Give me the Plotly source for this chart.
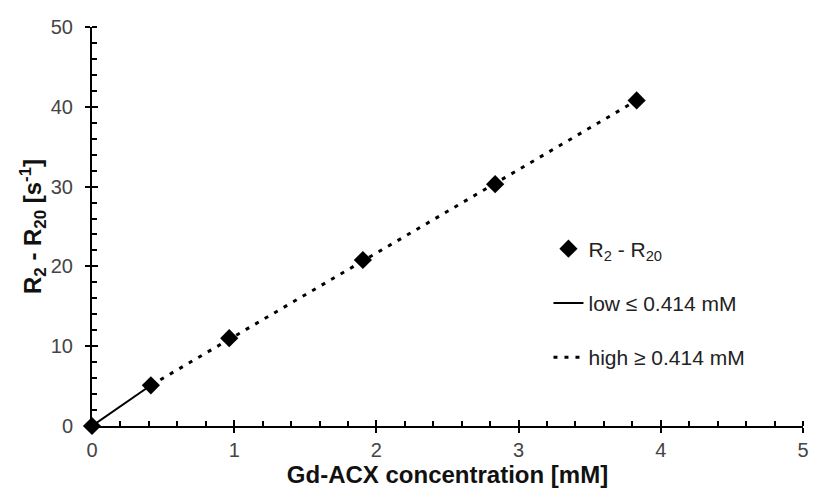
import plotly.graph_objects as go

# measured points
conc = [0, 0.414, 0.965, 1.905, 2.835, 3.83]
r2_diff = [0, 5.1, 11.0, 20.8, 30.3, 40.8]

# low range fit (solid) and high range fit (dotted)
low_x = [0, 0.414]
low_y = [0, 5.1]
high_x = [0.414, 3.83]
high_y = [5.1, 40.8]

x_ticks = [0, 1, 2, 3, 4, 5]
y_ticks = [0, 10, 20, 30, 40, 50]

tick_font = dict(family="Liberation Sans, Arial, sans-serif", size=20, color="#444444")
title_font = dict(family="Liberation Sans, Arial, sans-serif", size=24, color="#111111")

fig = go.Figure()

fig.add_trace(go.Scatter(
    x=low_x, y=low_y, mode="lines", name="low \u2264 0.414 mM",
    line=dict(color="black", width=2), legendgroup="b", legendrank=2,
    cliponaxis=False
))
fig.add_trace(go.Scatter(
    x=high_x, y=high_y, mode="lines", name="high \u2265 0.414 mM",
    line=dict(color="black", width=3, dash="4px,7px"), legendgroup="c", legendrank=3,
    cliponaxis=False
))
fig.add_trace(go.Scatter(
    x=conc, y=r2_diff, mode="markers", name="R<sub>2</sub> - R<sub>20</sub>",
    marker=dict(symbol="diamond", size=14, color="black"), legendgroup="a", legendrank=1,
    cliponaxis=False
))

axis_common = dict(
    showgrid=False, zeroline=False, showline=True, linecolor="black", linewidth=2,
    ticks="outside", ticklen=5, tickwidth=2, tickcolor="black",
    tickfont=tick_font,
)

# page body adds an 8px margin, so the figure is 8px smaller each way
fig.update_layout(
    width=809, height=496,
    plot_bgcolor="white", paper_bgcolor="white",
    margin=dict(l=84, r=8, t=12, b=78),
    xaxis=dict(
        range=[0, 5], tickvals=x_ticks,
        minor=dict(dtick=0.2, ticks="inside", ticklen=5, tickwidth=1.5, tickcolor="black"),
        title=dict(text="<b>Gd-ACX concentration [mM]</b>", font=title_font, standoff=0),
        **axis_common
    ),
    yaxis=dict(
        range=[0, 50], tickvals=y_ticks, ticklabelstandoff=8,
        minor=dict(dtick=2, ticks="inside", ticklen=5, tickwidth=1.5, tickcolor="black"),
        title=dict(text="<b>R<sub>2</sub> - R<sub>20</sub> [s<sup>-1</sup>]</b>", font=title_font, standoff=2),
        **axis_common
    ),
    # duplicate axes to make the major ticks cross the axis line
    xaxis2=dict(
        overlaying="x", range=[0, 5], tickvals=x_ticks, showticklabels=False,
        ticks="inside", ticklen=6, tickwidth=2, tickcolor="black", showgrid=False,
        zeroline=False, showline=False, side="bottom"
    ),
    yaxis2=dict(
        overlaying="y", range=[0, 50], tickvals=y_ticks, showticklabels=False,
        ticks="inside", ticklen=6, tickwidth=2, tickcolor="black", showgrid=False,
        zeroline=False, showline=False, side="left"
    ),
    legend=dict(
        x=0.642, y=0.495, xanchor="left", yanchor="top",
        font=dict(family="Liberation Sans, Arial, sans-serif", size=21, color="#222222"),
        tracegroupgap=24, bgcolor="rgba(0,0,0,0)", itemwidth=30
    ),
    showlegend=True,
)

# invisible trace to activate the duplicate tick axes
fig.add_trace(go.Scatter(x=[None], y=[None], xaxis="x2", yaxis="y2", showlegend=False, hoverinfo="skip"))

fig.write_html("out.html")
